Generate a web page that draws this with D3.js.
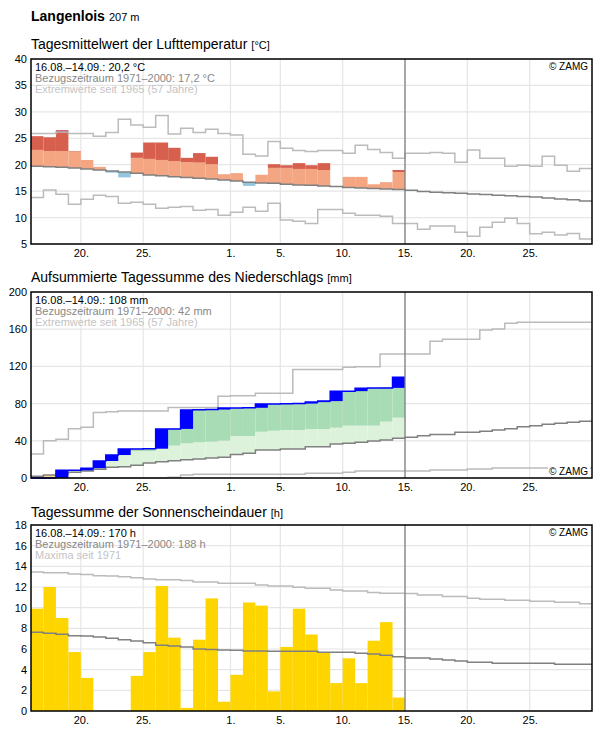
<!DOCTYPE html>
<html>
<head>
<meta charset="utf-8">
<script src="https://cdn.jsdelivr.net/npm/d3@7"></script>
<style>
  body { margin: 0; background: #fff; }
</style>
</head>
<body>
<div id="chart"></div>
<script>
// Zeitraum: 16.08. bis 29.09.2022, gemessen bis 14.09.
const start = new Date(2022, 7, 16), end = new Date(2022, 8, 30);
const days = d3.timeDay.range(start, end);
const xTicks = [new Date(2022, 7, 20), new Date(2022, 7, 25), new Date(2022, 8, 1), new Date(2022, 8, 5),
                new Date(2022, 8, 10), new Date(2022, 8, 15), new Date(2022, 8, 20), new Date(2022, 8, 25)];
const today = new Date(2022, 8, 15);

// Lufttemperatur (°C)
const tempMean = [25.4, 25.2, 26.5, 22.6, 20.9, 19.6, 18.5, 17.6, 22.3, 24.2, 24.2, 23.2, 21.3, 22.2, 21.5,
                  18.2, 18.4, 16.0, 18.1, 20.1, 19.9, 20.3, 19.9, 20.3, 15.9, 17.7, 17.7, 16.3, 16.7, 19.0];
const tempUpper = [22.8, 22.6, 22.6, 22.5, 22.4, 22.3, 22.1, 21.9, 21.3, 21.1, 20.9, 20.7, 20.5, 20.4, 20.1,
                   20.0, 19.9, 19.8, 19.6, 19.4, 19.4, 19.2, 19.2, 19.0, 18.9, 18.8, 18.8, 18.7, 18.7, 18.6];
const tempNormal = [19.7, 19.6, 19.5, 19.4, 19.2, 19.0, 18.8, 18.6, 18.4, 18.05, 17.9, 17.7, 17.6, 17.45, 17.3,
                    17.1, 16.9, 16.7, 16.55, 16.5, 16.3, 16.15, 16.1, 15.95, 15.9, 15.7, 15.6, 15.5, 15.4, 15.3,
                    15.15, 14.95, 14.8, 14.7, 14.6, 14.45, 14.35, 14.2, 14.15, 14.0, 13.9, 13.7, 13.5, 13.35, 13.15];
const tempMax = [25.9, 25.9, 26.2, 25.9, 25.9, 25.4, 26.1, 28.6, 27.5, 27.1, 29.3, 25.8, 26.9, 26.1, 26.7,
                 25.9, 25.6, 22.0, 21.65, 24.4, 23.1, 22.7, 22.5, 22.7, 22.7, 22.15, 23.7, 22.9, 22.3, 21.2,
                 22.15, 22.15, 22.3, 22.15, 20.45, 22.8, 21.2, 21.2, 19.7, 19.9, 19.7, 21.6, 19.9, 18.75, 19.3];
const tempMin = [13.8, 15.2, 14.4, 12.5, 13.45, 14.2, 14.0, 12.7, 12.9, 12.5, 11.75, 11.95, 12.1, 11.4, 11.55,
                 10.45, 11.0, 11.95, 11.2, 12.7, 9.55, 9.3, 8.9, 11.55, 11.55, 10.8, 10.45, 10.45, 10.25, 8.9,
                 8.9, 7.8, 8.4, 8.4, 7.2, 6.45, 8.15, 9.1, 9.85, 8.9, 6.95, 7.2, 6.7, 7.0, 5.95];

// Niederschlag, aufsummiert (mm)
const precipCum = [0, 0, 8.2, 8.2, 10.6, 18.3, 24.7, 31.2, 31.3, 31.5, 52.6, 52.8, 73.1, 73.3, 73.6,
                   75.3, 75.3, 75.5, 79.6, 79.6, 79.8, 80.0, 81.6, 82.7, 93.4, 93.4, 96.6, 96.7, 96.9, 108.3];
const precipUpper = [5, 7, 9, 11, 14, 18, 26, 28, 29.0, 29.0, 34.8, 34.8, 37.3, 38.4, 39.1,
                     40.1, 45.1, 45.1, 49.7, 50.8, 51.6, 51.6, 52.7, 52.7, 54.1, 56.3, 56.3, 56.3, 60.6, 64.9];
const precipNormal = [1.8, 3.2, 4.6, 6.1, 7.6, 9.3, 11.5, 12.2, 13.6, 16.1, 17.6, 18.6, 19.7, 20.4, 21.5,
                      22.4, 25.4, 26.5, 30.1, 30.1, 31.2, 31.2, 33.7, 33.7, 36.6, 37.3, 38.4, 39.8, 40.9, 42.7,
                      43.7, 45.5, 46.9, 46.9, 49.1, 49.1, 50.2, 51.6, 53.0, 55.2, 56.3, 57.7, 58.8, 59.9, 60.9];
const precipMax = [25.8, 40.1, 41.6, 53.0, 54.5, 70.3, 71.3, 72.0, 72.0, 72.0, 72.0, 75.9, 75.9, 75.9, 75.9,
                   87.8, 88.5, 88.5, 91, 91, 91, 116.8, 116.8, 116.8, 116.8, 119.0, 119.7, 119.7, 133.3, 133.3,
                   133.3, 133.3, 147.0, 149.2, 149.2, 149.2, 159.1, 160.2, 166.3, 167.4, 167.4, 167.4, 167.4, 167.4, 167.4];
const precipMin = [0, 0, 0, 0, 0, 0, 0, 0, 0, 0, 0, 0.7, 3.2, 4.0, 4.0,
                   4.0, 4.0, 4.0, 4.0, 4.0, 4.0, 4.0, 5.0, 5.0, 5.0, 6.1, 7.5, 7.5, 7.5, 7.5,
                   7.5, 7.5, 8.6, 8.6, 8.6, 9.7, 9.7, 10.8, 10.8, 10.8, 10.8, 10.8, 10.8, 10.8, 10.8];

// Sonnenscheindauer (h)
const sunHours = [9.9, 12.0, 9.0, 5.7, 3.2, 0, 0, 0, 3.4, 5.7, 12.1, 7.1, 0.3, 6.9, 10.9,
                  0.9, 3.5, 10.5, 10.2, 1.9, 6.2, 9.9, 7.4, 5.7, 2.7, 5.1, 2.7, 6.8, 8.6, 1.3];
const sunNormal = [7.62, 7.52, 7.42, 7.29, 7.25, 7.16, 7.05, 6.9, 6.78, 6.61, 6.36, 6.3, 6.2, 6.0, 5.94,
                   5.9, 5.87, 5.81, 5.81, 5.78, 5.78, 5.78, 5.78, 5.68, 5.68, 5.68, 5.58, 5.52, 5.39, 5.26,
                   5.13, 5.13, 5.03, 4.94, 4.84, 4.71, 4.71, 4.62, 4.62, 4.62, 4.62, 4.62, 4.52, 4.52, 4.52];
const sunMax = [13.46, 13.39, 13.39, 13.26, 13.22, 13.1, 13.06, 13.0, 12.9, 12.78, 12.7, 12.7, 12.62, 12.49, 12.49,
                12.36, 12.36, 12.36, 12.2, 12.1, 12.1, 11.97, 11.87, 11.87, 11.71, 11.62, 11.62, 11.46, 11.4, 11.4,
                11.36, 11.23, 11.23, 11.07, 11.07, 10.9, 10.81, 10.81, 10.71, 10.71, 10.62, 10.62, 10.52, 10.52, 10.39];

const W = 596, H = 729, left = 31, right = 592;
const font = '"Liberation Sans", Arial, Helvetica, sans-serif';

const svg = d3.select("#chart").append("svg")
  .attr("width", W).attr("height", H)
  .style("font-family", font);

const x = d3.scaleTime().domain([start, end]).range([left, right]);
const next = d => d3.timeDay.offset(d, 1);

function stepPath(y, values) {
  const pts = values.map((v, i) => [days[i], v]);
  pts.push([end, values[values.length - 1]]);
  return d3.line().x(d => x(d[0])).y(d => y(d[1])).curve(d3.curveStepAfter)(pts);
}

svg.append("text").attr("x", 31).attr("y", 21)
  .attr("font-size", 14).attr("font-weight", "bold").text("Langenlois")
  .append("tspan").attr("font-weight", "normal").attr("font-size", 11).attr("dx", 4).text("207 m");

function panel(p) {
  const y = d3.scaleLinear().domain(p.domain).range([p.bottom, p.top]);
  const g = svg.append("g");

  g.append("text").attr("x", 31).attr("y", p.titleY).attr("font-size", 14).text(p.title)
    .append("tspan").attr("font-size", 11).attr("dx", 4).text(p.unit);

  g.append("g").selectAll("line").data(p.ticks).join("line")
    .attr("x1", left).attr("x2", right)
    .attr("y1", d => y(d)).attr("y2", d => y(d))
    .attr("stroke", "#e6e6e6").attr("stroke-width", 1.2);
  g.append("g").selectAll("line").data(xTicks).join("line")
    .attr("x1", d => x(d)).attr("x2", d => x(d))
    .attr("y1", p.top).attr("y2", p.bottom)
    .attr("stroke", "#e6e6e6").attr("stroke-width", 1.2);

  const fills = g.append("g");
  const lines = g.append("g").attr("fill", "none").attr("stroke-width", 1.5);
  const top = g.append("g");

  top.append("line").attr("x1", x(today)).attr("x2", x(today))
    .attr("y1", p.top).attr("y2", p.bottom).attr("stroke", "#808080").attr("stroke-width", 1.3);

  top.append("rect").attr("x", left).attr("y", p.top)
    .attr("width", right - left).attr("height", p.bottom - p.top)
    .attr("fill", "none").attr("stroke", "#000").attr("stroke-width", 1.5);

  top.append("g").selectAll("text").data(p.info).join("text")
    .attr("x", 35).attr("y", (d, i) => p.top + 12 + i * 11)
    .attr("font-size", 11)
    .attr("fill", (d, i) => ["#000", "#888", "#c4c4c4"][i])
    .text(d => d);

  const zY = p.zamgBottom ? p.bottom - 3 : p.top + 11;
  if (p.zamgBottom) {
    top.append("rect").attr("x", 548).attr("y", zY - 9).attr("width", 42).attr("height", 10.5).attr("fill", "#fff");
  }
  top.append("text").attr("x", 588).attr("y", zY).attr("text-anchor", "end")
    .attr("font-size", 10).text("© ZAMG");

  const ay = g.append("g").attr("transform", `translate(${left},0)`)
    .call(d3.axisLeft(y).tickValues(p.ticks).tickSize(0).tickPadding(4));
  ay.select(".domain").remove();
  ay.attr("font-family", font).attr("font-size", 11);
  ay.selectAll("text").attr("fill", "#000");

  const ax = g.append("g").attr("transform", `translate(0,${p.bottom})`)
    .call(d3.axisBottom(x).tickValues(xTicks).tickFormat(d3.timeFormat("%-d.")).tickSize(0).tickPadding(5));
  ax.select(".domain").remove();
  ax.attr("font-family", font).attr("font-size", 11);
  ax.selectAll("text").attr("fill", "#000");

  return { y, fills, lines, top };
}

// --- Panel 1: Temperatur ---
const p1 = panel({
  top: 59, bottom: 244, domain: [5, 40], ticks: d3.range(5, 41, 5),
  titleY: 48.5, title: "Tagesmittelwert der Lufttemperatur", unit: "[°C]",
  info: ["16.08.–14.09.: 20,2 °C", "Bezugszeitraum 1971–2000: 17,2 °C", "Extremwerte seit 1965 (57 Jahre)"]
});
{
  const y = p1.y, segs = [];
  tempMean.forEach((t, i) => {
    const n = tempNormal[i], u = tempUpper[i], mx = tempMax[i];
    if (t > n) {
      segs.push({ i, a: n, b: Math.min(t, u), c: "#f4a582" });
      if (t > u) segs.push({ i, a: u, b: Math.min(t, mx), c: "#d6604d" });
      if (t > mx) segs.push({ i, a: mx, b: t, c: "#b2182b" });
    } else if (t < n) {
      segs.push({ i, a: t, b: n, c: "#92c5de" });
    }
  });
  p1.fills.selectAll("rect").data(segs).join("rect")
    .attr("x", d => x(days[d.i])).attr("width", d => x(next(days[d.i])) - x(days[d.i]))
    .attr("y", d => y(Math.max(d.a, d.b))).attr("height", d => Math.abs(y(d.a) - y(d.b)))
    .attr("fill", d => d.c);
  p1.lines.append("path").attr("d", stepPath(y, tempMax)).attr("stroke", "#bbb");
  p1.lines.append("path").attr("d", stepPath(y, tempMin)).attr("stroke", "#bbb");
  p1.lines.append("path").attr("d", stepPath(y, tempNormal)).attr("stroke", "#808080");
}

// --- Panel 2: Niederschlag ---
const p2 = panel({
  top: 292, bottom: 478, domain: [0, 200], ticks: d3.range(0, 201, 40),
  titleY: 282, title: "Aufsummierte Tagessumme des Niederschlags", unit: "[mm]",
  info: ["16.08.–14.09.: 108 mm", "Bezugszeitraum 1971–2000: 42 mm", "Extremwerte seit 1965 (57 Jahre)"],
  zamgBottom: true
});
{
  const y = p2.y, segs = [], bars = [];
  precipCum.forEach((c, i) => {
    const n = precipNormal[i], u = precipUpper[i], prev = i > 0 ? precipCum[i - 1] : 0;
    if (c > n) {
      segs.push({ i, a: n, b: Math.min(c, u), c: "#ddf2da" });
      if (c > u) segs.push({ i, a: u, b: c, c: "#a8dcb4" });
    } else if (c < n) {
      segs.push({ i, a: c, b: n, c: "#fbd98c" });
    }
    if (c > prev) bars.push({ i, a: prev, b: c });
  });
  p2.fills.selectAll("rect").data(segs).join("rect")
    .attr("x", d => x(days[d.i])).attr("width", d => x(next(days[d.i])) - x(days[d.i]))
    .attr("y", d => y(Math.max(d.a, d.b))).attr("height", d => Math.abs(y(d.a) - y(d.b)))
    .attr("fill", d => d.c);
  p2.lines.append("path").attr("d", stepPath(y, precipMax)).attr("stroke", "#bbb");
  p2.lines.append("path").attr("d", stepPath(y, precipMin)).attr("stroke", "#bbb");
  p2.lines.append("path").attr("d", stepPath(y, precipNormal)).attr("stroke", "#808080");

  const blue = p2.lines.append("g");
  blue.selectAll("rect").data(bars).join("rect")
    .attr("x", d => x(days[d.i])).attr("width", d => x(next(days[d.i])) - x(days[d.i]))
    .attr("y", d => y(d.b)).attr("height", d => y(d.a) - y(d.b))
    .attr("fill", "#0000ff").attr("stroke", "none");
  const cumPts = precipCum.map((v, i) => [days[i], v]);
  cumPts.push([today, precipCum[precipCum.length - 1]]);
  blue.append("path")
    .attr("d", d3.line().x(d => x(d[0])).y(d => y(d[1])).curve(d3.curveStepAfter)(cumPts))
    .attr("stroke", "#0000ff").attr("stroke-width", 1.5).attr("fill", "none");
}

// --- Panel 3: Sonnenschein ---
const p3 = panel({
  top: 525, bottom: 711, domain: [0, 18], ticks: d3.range(0, 19, 2),
  titleY: 517, title: "Tagessumme der Sonnenscheindauer", unit: "[h]",
  info: ["16.08.–14.09.: 170 h", "Bezugszeitraum 1971–2000: 188 h", "Maxima seit 1971"]
});
{
  const y = p3.y;
  p3.fills.selectAll("rect").data(sunHours).join("rect")
    .attr("x", (d, i) => x(days[i])).attr("width", (d, i) => x(next(days[i])) - x(days[i]))
    .attr("y", d => y(d)).attr("height", d => y(0) - y(d))
    .attr("fill", "#ffd500");
  p3.lines.append("path").attr("d", stepPath(y, sunMax)).attr("stroke", "#bbb");
  p3.lines.append("path").attr("d", stepPath(y, sunNormal)).attr("stroke", "#808080");
}
</script>
</body>
</html>
